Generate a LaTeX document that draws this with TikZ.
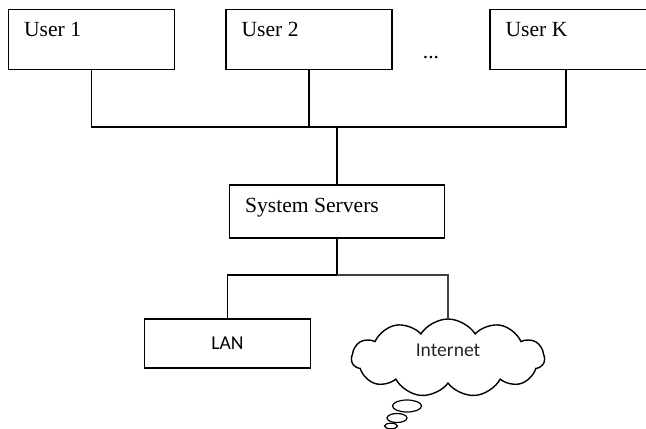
\documentclass[tikz,border=0pt]{standalone}
\usepackage{fontspec}
\setmainfont{Liberation Serif}
\newfontfamily\netfont{Carlito}
\usetikzlibrary{shapes.symbols}
\tikzstyle{userbox} = [rectangle, draw = black, line width = 0.8pt, minimum width = 83pt, minimum height = 30pt]
\tikzstyle{serverbox} = [rectangle, draw = black, line width = 0.8pt, minimum width = 107.5pt, minimum height = 26.5pt]
\tikzstyle{lanbox} = [rectangle, draw = black, line width = 0.8pt, minimum width = 83pt, minimum height = 24.5pt, font = \netfont\fontsize{9.8}{12}\selectfont]
\tikzstyle{netcloud} = [cloud, draw = black, line width = 0.7pt, cloud puffs = 11, cloud puff arc = 115, minimum width = 96.5pt, minimum height = 39pt, inner sep = 0pt]
\tikzstyle{boxlabel} = [anchor = base west, inner sep = 0pt, xshift = 8pt, yshift = -14pt, font = \fontsize{10.8}{13}\selectfont]
\tikzstyle{link} = [line width = 0.8pt]

\begin{document}
\begin{tikzpicture}[x = 0.5pt, y = -0.5pt]
\useasboundingbox (0,0) rectangle (646,428);

\node(user1) [userbox, label = {[boxlabel]north west:User 1}] at (91.5,39.3) {};
\node(user2) [userbox, label = {[boxlabel]north west:User 2}] at (309,39.3) {};
\node(userK) [userbox, minimum width = 95pt, label = {[boxlabel]north west:User K}] at (585,39.3) {};
\node(dots) [font = \fontsize{10.8}{13}\selectfont] at (431,58) {...};
\node(server) [serverbox, label = {[boxlabel]north west:System Servers}] at (337,211.5) {};
\node(lan) [lanbox] at (227.5,343.5) {LAN};
\node(internet) [netcloud, label = {[font = \netfont\fontsize{9.8}{12}\selectfont, text = black!85, yshift = 4pt]center:Internet}] at (448,358) {};

\coordinate (bus) at (337,126.7);
\coordinate (split) at (337,275);

\draw [link] (user1.south) |- (bus);
\draw [link] (user2.south) -- (user2.south |- bus);
\draw [link] ([xshift = -9.5pt]userK.south) |- (bus);
\draw [link] (bus) -- (server.north);
\draw [link] (server.south) -- (split);
\draw [link] (split) -| (lan.north);
\draw [line width = 0.6pt, black!75] (split) -| (internet.north);

% thought bubbles under the cloud
\draw [line width = 0.6pt] (407,406) ellipse [x radius = 7.25pt, y radius = 3pt];
\draw [line width = 0.6pt] (397,418) ellipse [x radius = 5pt, y radius = 2.25pt];
\draw [line width = 0.6pt] (391,426) ellipse [x radius = 3.25pt, y radius = 1.4pt];

\end{tikzpicture}
\end{document}
